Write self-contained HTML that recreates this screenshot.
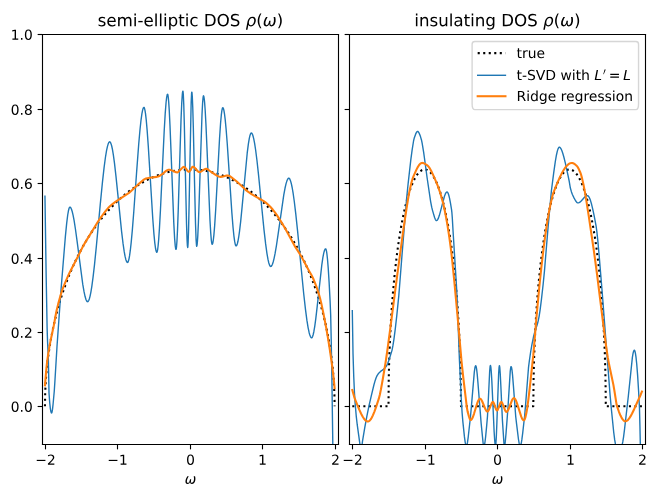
<!DOCTYPE html>
<html><head><meta charset="utf-8"><title>DOS plots</title>
<style>html,body{margin:0;padding:0;background:#fff;width:656px;height:497px;overflow:hidden;font-family:"Liberation Sans",sans-serif;}svg{display:block}</style>
</head><body>
<svg width="656" height="497" viewBox="0 0 656 497" version="1.1">
 
 <defs>
  <style type="text/css">*{stroke-linejoin: round; stroke-linecap: butt}</style>
 </defs>
 <g id="figure_1">
  <g id="patch_1">
   <path d="M 0 497 
L 656 497 
L 656 0 
L 0 0 
z
" style="fill: #ffffff"/>
  </g>
  <g id="axes_1">
   <g id="patch_2">
    <path d="M 42.5 444.5 
L 338.5 444.5 
L 338.5 34.5 
L 42.5 34.5 
z
" style="fill: #ffffff"/>
   </g>
   <g id="matplotlib.axis_1">
    <g id="xtick_1">
     <g id="line2d_1">
      <defs>
       <path id="mf3acd94721" d="M 0 0 
L 0 4.861111 
" style="stroke: #000000; stroke-width: 1.111111"/>
      </defs>
      <g>
       <use href="#mf3acd94721" x="45.5" y="444.5" style="stroke: #000000; stroke-width: 1.111111"/>
      </g>
     </g>
     <g id="text_1">
      <!-- −2 -->
      <g transform="translate(35.26237 464.775608) scale(0.138889 -0.138889)">
       <defs>
        <path id="DejaVuSans-2212" d="M 678 2272 
L 4684 2272 
L 4684 1741 
L 678 1741 
L 678 2272 
z
" transform="scale(0.015625)"/>
        <path id="DejaVuSans-32" d="M 1228 531 
L 3431 531 
L 3431 0 
L 469 0 
L 469 531 
Q 828 903 1448 1529 
Q 2069 2156 2228 2338 
Q 2531 2678 2651 2914 
Q 2772 3150 2772 3378 
Q 2772 3750 2511 3984 
Q 2250 4219 1831 4219 
Q 1534 4219 1204 4116 
Q 875 4013 500 3803 
L 500 4441 
Q 881 4594 1212 4672 
Q 1544 4750 1819 4750 
Q 2544 4750 2975 4387 
Q 3406 4025 3406 3419 
Q 3406 3131 3298 2873 
Q 3191 2616 2906 2266 
Q 2828 2175 2409 1742 
Q 1991 1309 1228 531 
z
" transform="scale(0.015625)"/>
       </defs>
       <use href="#DejaVuSans-2212"/>
       <use href="#DejaVuSans-32" transform="translate(83.789062 0)"/>
      </g>
     </g>
    </g>
    <g id="xtick_2">
     <g id="line2d_2">
      <g>
       <use href="#mf3acd94721" x="117.5" y="444.5" style="stroke: #000000; stroke-width: 1.111111"/>
      </g>
     </g>
     <g id="text_2">
      <!-- −1 -->
      <g transform="translate(107.26237 464.775608) scale(0.138889 -0.138889)">
       <defs>
        <path id="DejaVuSans-31" d="M 794 531 
L 1825 531 
L 1825 4091 
L 703 3866 
L 703 4441 
L 1819 4666 
L 2450 4666 
L 2450 531 
L 3481 531 
L 3481 0 
L 794 0 
L 794 531 
z
" transform="scale(0.015625)"/>
       </defs>
       <use href="#DejaVuSans-2212"/>
       <use href="#DejaVuSans-31" transform="translate(83.789062 0)"/>
      </g>
     </g>
    </g>
    <g id="xtick_3">
     <g id="line2d_3">
      <g>
       <use href="#mf3acd94721" x="190.5" y="444.5" style="stroke: #000000; stroke-width: 1.111111"/>
      </g>
     </g>
     <g id="text_3">
      <!-- 0 -->
      <g transform="translate(186.081597 464.775608) scale(0.138889 -0.138889)">
       <defs>
        <path id="DejaVuSans-30" d="M 2034 4250 
Q 1547 4250 1301 3770 
Q 1056 3291 1056 2328 
Q 1056 1369 1301 889 
Q 1547 409 2034 409 
Q 2525 409 2770 889 
Q 3016 1369 3016 2328 
Q 3016 3291 2770 3770 
Q 2525 4250 2034 4250 
z
M 2034 4750 
Q 2819 4750 3233 4129 
Q 3647 3509 3647 2328 
Q 3647 1150 3233 529 
Q 2819 -91 2034 -91 
Q 1250 -91 836 529 
Q 422 1150 422 2328 
Q 422 3509 836 4129 
Q 1250 4750 2034 4750 
z
" transform="scale(0.015625)"/>
       </defs>
       <use href="#DejaVuSans-30"/>
      </g>
     </g>
    </g>
    <g id="xtick_4">
     <g id="line2d_4">
      <g>
       <use href="#mf3acd94721" x="262.5" y="444.5" style="stroke: #000000; stroke-width: 1.111111"/>
      </g>
     </g>
     <g id="text_4">
      <!-- 1 -->
      <g transform="translate(258.081597 464.775608) scale(0.138889 -0.138889)">
       <use href="#DejaVuSans-31"/>
      </g>
     </g>
    </g>
    <g id="xtick_5">
     <g id="line2d_5">
      <g>
       <use href="#mf3acd94721" x="335.5" y="444.5" style="stroke: #000000; stroke-width: 1.111111"/>
      </g>
     </g>
     <g id="text_5">
      <!-- 2 -->
      <g transform="translate(331.081597 464.775608) scale(0.138889 -0.138889)">
       <use href="#DejaVuSans-32"/>
      </g>
     </g>
    </g>
    <g id="text_6">
     <!-- $\omega$ -->
     <g transform="translate(184.666667 483.773003) scale(0.138889 -0.138889)">
      <defs>
       <path id="DejaVuSans-Oblique-3c9" d="M 1369 -91 
Q 72 -91 434 1766 
Q 575 2500 1256 3500 
L 1875 3500 
Q 1231 2500 1088 1750 
Q 819 397 1519 397 
Q 2166 397 2478 2078 
L 3009 2078 
Q 2669 388 3316 397 
Q 4013 403 4275 1750 
Q 4419 2500 4169 3500 
L 4788 3500 
Q 5075 2500 4934 1766 
Q 4578 -94 3278 -91 
Q 2428 -88 2503 844 
Q 2194 -91 1369 -91 
z
" transform="scale(0.015625)"/>
      </defs>
      <use href="#DejaVuSans-Oblique-3c9" transform="translate(0 0.3125)"/>
     </g>
    </g>
   </g>
   <g id="matplotlib.axis_2">
    <g id="ytick_1">
     <g id="line2d_6">
      <defs>
       <path id="mcb02be6ef6" d="M 0 0 
L -4.861111 0 
" style="stroke: #000000; stroke-width: 1.111111"/>
      </defs>
      <g>
       <use href="#mcb02be6ef6" x="42.5" y="406.5" style="stroke: #000000; stroke-width: 1.111111"/>
      </g>
     </g>
     <g id="text_7">
      <!-- 0.0 -->
      <g transform="translate(10.690104 411.776693) scale(0.138889 -0.138889)">
       <defs>
        <path id="DejaVuSans-2e" d="M 684 794 
L 1344 794 
L 1344 0 
L 684 0 
L 684 794 
z
" transform="scale(0.015625)"/>
       </defs>
       <use href="#DejaVuSans-30"/>
       <use href="#DejaVuSans-2e" transform="translate(63.623047 0)"/>
       <use href="#DejaVuSans-30" transform="translate(95.410156 0)"/>
      </g>
     </g>
    </g>
    <g id="ytick_2">
     <g id="line2d_7">
      <g>
       <use href="#mcb02be6ef6" x="42.5" y="332.5" style="stroke: #000000; stroke-width: 1.111111"/>
      </g>
     </g>
     <g id="text_8">
      <!-- 0.2 -->
      <g transform="translate(10.690104 337.776693) scale(0.138889 -0.138889)">
       <use href="#DejaVuSans-30"/>
       <use href="#DejaVuSans-2e" transform="translate(63.623047 0)"/>
       <use href="#DejaVuSans-32" transform="translate(95.410156 0)"/>
      </g>
     </g>
    </g>
    <g id="ytick_3">
     <g id="line2d_8">
      <g>
       <use href="#mcb02be6ef6" x="42.5" y="258.5" style="stroke: #000000; stroke-width: 1.111111"/>
      </g>
     </g>
     <g id="text_9">
      <!-- 0.4 -->
      <g transform="translate(10.690104 263.776693) scale(0.138889 -0.138889)">
       <defs>
        <path id="DejaVuSans-34" d="M 2419 4116 
L 825 1625 
L 2419 1625 
L 2419 4116 
z
M 2253 4666 
L 3047 4666 
L 3047 1625 
L 3713 1625 
L 3713 1100 
L 3047 1100 
L 3047 0 
L 2419 0 
L 2419 1100 
L 313 1100 
L 313 1709 
L 2253 4666 
z
" transform="scale(0.015625)"/>
       </defs>
       <use href="#DejaVuSans-30"/>
       <use href="#DejaVuSans-2e" transform="translate(63.623047 0)"/>
       <use href="#DejaVuSans-34" transform="translate(95.410156 0)"/>
      </g>
     </g>
    </g>
    <g id="ytick_4">
     <g id="line2d_9">
      <g>
       <use href="#mcb02be6ef6" x="42.5" y="183.5" style="stroke: #000000; stroke-width: 1.111111"/>
      </g>
     </g>
     <g id="text_10">
      <!-- 0.6 -->
      <g transform="translate(10.690104 188.776693) scale(0.138889 -0.138889)">
       <defs>
        <path id="DejaVuSans-36" d="M 2113 2584 
Q 1688 2584 1439 2293 
Q 1191 2003 1191 1497 
Q 1191 994 1439 701 
Q 1688 409 2113 409 
Q 2538 409 2786 701 
Q 3034 994 3034 1497 
Q 3034 2003 2786 2293 
Q 2538 2584 2113 2584 
z
M 3366 4563 
L 3366 3988 
Q 3128 4100 2886 4159 
Q 2644 4219 2406 4219 
Q 1781 4219 1451 3797 
Q 1122 3375 1075 2522 
Q 1259 2794 1537 2939 
Q 1816 3084 2150 3084 
Q 2853 3084 3261 2657 
Q 3669 2231 3669 1497 
Q 3669 778 3244 343 
Q 2819 -91 2113 -91 
Q 1303 -91 875 529 
Q 447 1150 447 2328 
Q 447 3434 972 4092 
Q 1497 4750 2381 4750 
Q 2619 4750 2861 4703 
Q 3103 4656 3366 4563 
z
" transform="scale(0.015625)"/>
       </defs>
       <use href="#DejaVuSans-30"/>
       <use href="#DejaVuSans-2e" transform="translate(63.623047 0)"/>
       <use href="#DejaVuSans-36" transform="translate(95.410156 0)"/>
      </g>
     </g>
    </g>
    <g id="ytick_5">
     <g id="line2d_10">
      <g>
       <use href="#mcb02be6ef6" x="42.5" y="109.5" style="stroke: #000000; stroke-width: 1.111111"/>
      </g>
     </g>
     <g id="text_11">
      <!-- 0.8 -->
      <g transform="translate(10.690104 114.776693) scale(0.138889 -0.138889)">
       <defs>
        <path id="DejaVuSans-38" d="M 2034 2216 
Q 1584 2216 1326 1975 
Q 1069 1734 1069 1313 
Q 1069 891 1326 650 
Q 1584 409 2034 409 
Q 2484 409 2743 651 
Q 3003 894 3003 1313 
Q 3003 1734 2745 1975 
Q 2488 2216 2034 2216 
z
M 1403 2484 
Q 997 2584 770 2862 
Q 544 3141 544 3541 
Q 544 4100 942 4425 
Q 1341 4750 2034 4750 
Q 2731 4750 3128 4425 
Q 3525 4100 3525 3541 
Q 3525 3141 3298 2862 
Q 3072 2584 2669 2484 
Q 3125 2378 3379 2068 
Q 3634 1759 3634 1313 
Q 3634 634 3220 271 
Q 2806 -91 2034 -91 
Q 1263 -91 848 271 
Q 434 634 434 1313 
Q 434 1759 690 2068 
Q 947 2378 1403 2484 
z
M 1172 3481 
Q 1172 3119 1398 2916 
Q 1625 2713 2034 2713 
Q 2441 2713 2670 2916 
Q 2900 3119 2900 3481 
Q 2900 3844 2670 4047 
Q 2441 4250 2034 4250 
Q 1625 4250 1398 4047 
Q 1172 3844 1172 3481 
z
" transform="scale(0.015625)"/>
       </defs>
       <use href="#DejaVuSans-30"/>
       <use href="#DejaVuSans-2e" transform="translate(63.623047 0)"/>
       <use href="#DejaVuSans-38" transform="translate(95.410156 0)"/>
      </g>
     </g>
    </g>
    <g id="ytick_6">
     <g id="line2d_11">
      <g>
       <use href="#mcb02be6ef6" x="42.5" y="34.5" style="stroke: #000000; stroke-width: 1.111111"/>
      </g>
     </g>
     <g id="text_12">
      <!-- 1.0 -->
      <g transform="translate(10.690104 39.776693) scale(0.138889 -0.138889)">
       <use href="#DejaVuSans-31"/>
       <use href="#DejaVuSans-2e" transform="translate(63.623047 0)"/>
       <use href="#DejaVuSans-30" transform="translate(95.410156 0)"/>
      </g>
     </g>
    </g>
   </g>
   <g id="line2d_12">
    <path d="M 44.96 406.3 
L 45.17723 393.33356 
L 45.61169 383.858329 
L 46.26338 374.59849 
L 47.1323 365.43524 
L 48.21845 356.345736 
L 49.52183 347.327974 
L 51.04244 338.386822 
L 52.78028 329.530032 
L 54.66294 321.073159 
L 56.76283 312.655394 
L 59.07995 304.302928 
L 61.54189 296.262916 
L 64.14865 288.495655 
L 66.97264 280.784939 
L 69.94145 273.332254 
L 73.05508 266.121051 
L 76.31353 259.14041 
L 79.64439 252.522132 
L 83.12007 246.104332 
L 86.74057 239.888083 
L 90.43348 233.987544 
L 94.1988 228.383361 
L 98.10894 222.963394 
L 102.09149 217.825881 
L 106.14645 212.960272 
L 110.27382 208.358415 
L 114.40119 204.086298 
L 118.60097 200.056547 
L 122.87316 196.26683 
L 127.14535 192.772748 
L 131.48995 189.5079 
L 135.83455 186.521045 
L 140.17915 183.800987 
L 144.59616 181.299129 
L 149.01317 179.054258 
L 153.43018 177.058825 
L 157.84719 175.306364 
L 162.2642 173.791383 
L 166.68121 172.509264 
L 171.09822 171.456193 
L 175.51523 170.629101 
L 179.93224 170.025613 
L 184.34925 169.644019 
L 188.76626 169.483247 
L 193.18327 169.542846 
L 197.60028 169.822984 
L 202.01729 170.324445 
L 206.4343 171.048646 
L 210.85131 171.997651 
L 215.26832 173.174205 
L 219.68533 174.581776 
L 224.10234 176.224602 
L 228.51935 178.107765 
L 232.86395 180.200339 
L 237.20855 182.537929 
L 241.55315 185.128304 
L 245.89775 187.980461 
L 250.16994 191.050443 
L 254.44213 194.395054 
L 258.64191 197.963475 
L 262.84169 201.824637 
L 266.96906 205.920827 
L 271.09643 210.334845 
L 275.15139 215.002229 
L 279.13394 219.929376 
L 283.04408 225.124709 
L 286.88181 230.599089 
L 290.57472 236.25151 
L 294.19522 242.197348 
L 297.74331 248.456434 
L 301.14658 254.911471 
L 304.40503 261.561356 
L 307.59107 268.572311 
L 310.63229 275.808892 
L 313.52869 283.282194 
L 316.28027 291.009062 
L 318.81462 298.781777 
L 321.20415 306.822193 
L 323.44886 315.170693 
L 325.47634 323.570929 
L 327.28659 331.99289 
L 328.95202 340.807109 
L 330.40022 349.680586 
L 331.63119 358.593479 
L 332.64493 367.51764 
L 333.44144 376.404025 
L 334.02072 385.139139 
L 334.38277 393.33356 
L 334.52759 398.811949 
L 334.6 406.3 
L 334.6 406.3 
" clip-path="url(#p5061287ca9)" style="fill: none; stroke-dasharray: 2.083333,3.4375; stroke-dashoffset: 0; stroke: #000000; stroke-width: 2.083333"/>
   </g>
   <g id="line2d_13">
    <path d="M 44.96 196.3 
L 46.11914 273.786904 
L 47.133387 328.850373 
L 47.568064 341.926174 
L 48.292526 356.696814 
L 48.582311 369.633486 
L 49.016988 393.27107 
L 49.741451 403.01912 
L 50.321021 408.361757 
L 50.90059 411.639377 
L 51.335268 412.807904 
L 51.625053 412.996728 
L 51.769945 412.852837 
L 52.05973 411.972892 
L 52.494407 409.395272 
L 53.073977 404.234297 
L 54.233117 391.443225 
L 54.812686 382.730473 
L 56.986073 346.737232 
L 60.898169 291.193522 
L 63.071556 264.501291 
L 65.389835 236.341023 
L 66.693867 223.070144 
L 67.708114 214.998096 
L 68.432576 210.778872 
L 69.012146 208.487433 
L 69.446823 207.469412 
L 69.736608 207.148711 
L 70.026393 207.114403 
L 70.461071 207.379142 
L 70.895748 207.964497 
L 71.475318 209.214646 
L 72.19978 211.476123 
L 73.069135 215.112043 
L 74.083382 220.455392 
L 75.387414 228.739561 
L 76.981231 240.408671 
L 82.776928 284.45564 
L 84.08096 291.968906 
L 85.095208 296.552773 
L 85.964562 299.426355 
L 86.544132 300.730248 
L 87.123702 301.498181 
L 87.558379 301.698433 
L 87.848164 301.639966 
L 88.282841 301.251476 
L 88.717519 300.514772 
L 89.297089 299.016068 
L 90.021551 296.361375 
L 90.890905 292.119039 
L 91.905153 285.860299 
L 93.064292 277.207953 
L 94.513217 264.548825 
L 96.396818 245.864733 
L 100.164022 205.421233 
L 102.482301 181.825817 
L 104.076118 167.594018 
L 105.38015 157.73991 
L 106.53929 150.676407 
L 107.408644 146.600246 
L 108.133107 144.097394 
L 108.712676 142.728908 
L 109.147354 142.09497 
L 109.582031 141.81362 
L 109.871816 141.833521 
L 110.161601 142.039303 
L 110.596278 142.687248 
L 111.175848 144.151674 
L 111.755418 146.256551 
L 112.47988 149.712117 
L 113.349235 154.939117 
L 114.508374 163.464656 
L 115.957299 176.060154 
L 117.985793 195.912604 
L 121.608104 231.581394 
L 123.057029 243.694214 
L 124.216168 251.691761 
L 125.085523 256.440023 
L 125.809985 259.442462 
L 126.389555 261.149377 
L 126.969125 262.184317 
L 127.403802 262.489462 
L 127.693587 262.435677 
L 127.983372 262.103732 
L 128.418049 261.096348 
L 128.997619 258.856074 
L 129.577189 255.665847 
L 130.301651 250.467334 
L 131.171006 242.665161 
L 132.330145 230.063493 
L 133.77907 211.701796 
L 136.532026 173.187405 
L 138.705413 144.224362 
L 140.009445 129.444583 
L 141.023692 120.039058 
L 141.893047 113.799701 
L 142.617509 110.097126 
L 143.197079 108.230364 
L 143.631756 107.523124 
L 143.921541 107.401211 
L 144.211326 107.649113 
L 144.501111 108.314563 
L 144.935788 110.052523 
L 145.515358 113.647253 
L 146.23982 119.971961 
L 147.109175 129.840973 
L 148.268314 145.993811 
L 150.007024 174.076692 
L 152.75998 218.565762 
L 153.91912 233.847717 
L 154.788474 242.829098 
L 155.512936 248.260593 
L 156.092506 251.040266 
L 156.527184 252.108317 
L 156.816968 252.298822 
L 156.961861 252.193748 
L 157.251646 251.487734 
L 157.686323 249.258528 
L 158.121001 245.736282 
L 158.70057 239.24474 
L 159.425033 228.662071 
L 160.43928 210.276623 
L 162.033097 176.486942 
L 164.206483 130.698677 
L 165.22073 113.368481 
L 166.090085 102.245297 
L 166.669655 97.268329 
L 167.104332 95.026586 
L 167.394117 94.311569 
L 167.53901 94.201803 
L 167.683902 94.29936 
L 167.973687 95.28204 
L 168.263472 97.25487 
L 168.698149 101.90575 
L 169.277719 110.86888 
L 170.002181 125.663592 
L 171.161321 154.857268 
L 173.769385 222.608168 
L 174.638739 238.590467 
L 175.218309 245.652695 
L 175.652986 248.634491 
L 175.942771 249.37869 
L 176.087664 249.323993 
L 176.232556 248.87266 
L 176.522341 246.815823 
L 176.957019 241.108983 
L 177.536588 229.344997 
L 178.261051 209.545598 
L 179.565083 166.291128 
L 181.014007 120.114815 
L 181.738469 103.047258 
L 182.318039 94.288297 
L 182.607824 91.927479 
L 182.897609 91.100057 
L 183.042501 91.505351 
L 183.332286 94.677072 
L 183.766963 104.563458 
L 184.346533 125.15097 
L 185.36078 172.270006 
L 186.51992 223.788628 
L 187.09949 240.768773 
L 187.389275 245.618649 
L 187.67906 247.491096 
L 187.823952 247.082488 
L 188.113737 243.072007 
L 188.548414 230.29118 
L 189.127984 204.078625 
L 191.156478 102.383237 
L 191.591156 93.268547 
L 191.736048 92.212246 
L 191.88094 92.224835 
L 192.025833 93.052434 
L 192.315618 96.863007 
L 192.750295 107.249667 
L 193.329865 127.807987 
L 194.489005 180.446199 
L 195.503252 223.198696 
L 196.082821 239.577281 
L 196.517499 245.674215 
L 196.662391 246.272888 
L 196.807284 246.188797 
L 197.097069 244.82046 
L 197.386853 242.003725 
L 197.821531 235.368626 
L 198.401101 222.756967 
L 199.270455 198.043205 
L 202.023412 114.007276 
L 202.602981 102.965801 
L 203.037659 97.792597 
L 203.327444 96.085819 
L 203.472336 95.807452 
L 203.617229 95.88016 
L 203.907014 96.744639 
L 204.196798 98.505157 
L 204.631476 102.681952 
L 205.211046 110.772518 
L 205.935508 124.197293 
L 206.949755 147.329685 
L 209.992496 220.469625 
L 210.716958 232.825745 
L 211.296528 239.828224 
L 211.731206 243.052945 
L 212.02099 244.113979 
L 212.165883 244.293167 
L 212.310775 244.255556 
L 212.60056 243.729554 
L 212.890345 242.637296 
L 213.325023 240.010444 
L 213.904592 234.838674 
L 214.629055 226.067942 
L 215.643302 210.422123 
L 217.092226 183.866793 
L 219.555398 138.260597 
L 220.569645 123.297981 
L 221.294107 115.187486 
L 221.873677 110.647247 
L 222.308354 108.554327 
L 222.598139 107.846729 
L 222.887924 107.718039 
L 223.177709 108.028049 
L 223.467494 108.709348 
L 223.902171 110.389939 
L 224.481741 113.770136 
L 225.206203 119.633594 
L 226.075558 128.718657 
L 227.234697 143.548529 
L 228.973407 169.384313 
L 231.871256 212.871168 
L 233.030395 227.213384 
L 233.89975 235.804695 
L 234.624212 241.172877 
L 235.203782 244.101992 
L 235.638459 245.412269 
L 235.928244 245.831452 
L 236.218029 245.879683 
L 236.507814 245.660551 
L 236.942491 244.897909 
L 237.377169 243.642701 
L 237.956738 241.257639 
L 238.681201 237.238521 
L 239.550555 231.087115 
L 240.709695 221.047075 
L 242.158619 206.387749 
L 247.229855 152.950205 
L 248.388994 143.836575 
L 249.258349 138.563511 
L 249.982811 135.396515 
L 250.562381 133.771808 
L 250.997059 133.132751 
L 251.286843 133.000254 
L 251.576628 133.080657 
L 252.011306 133.525248 
L 252.445983 134.342476 
L 253.025553 135.980629 
L 253.750015 138.849793 
L 254.61937 143.387496 
L 255.633617 150.008643 
L 256.937649 160.269278 
L 258.531466 174.819459 
L 260.994637 199.694646 
L 264.037379 230.077609 
L 265.631196 243.921634 
L 266.935228 253.368682 
L 267.949475 259.210306 
L 268.818829 262.977655 
L 269.543292 265.132802 
L 270.122861 266.152576 
L 270.557539 266.478509 
L 270.992216 266.431698 
L 271.426893 266.084204 
L 271.861571 265.455697 
L 272.441141 264.205924 
L 273.165603 262.030862 
L 274.034957 258.611636 
L 275.049205 253.65528 
L 276.353237 246.039211 
L 278.091946 234.347355 
L 283.742751 195.028034 
L 285.046783 188.015635 
L 286.061031 183.654004 
L 286.930385 180.83174 
L 287.654847 179.215631 
L 288.234417 178.453265 
L 288.669095 178.213789 
L 289.103772 178.284237 
L 289.538449 178.691412 
L 289.973127 179.424096 
L 290.552696 180.884419 
L 291.277159 183.442495 
L 292.146513 187.505671 
L 293.16076 193.48166 
L 294.3199 201.734307 
L 295.768824 213.815888 
L 297.652426 231.695761 
L 300.695168 263.19599 
L 303.737909 293.955434 
L 305.476618 309.447863 
L 306.925543 320.425248 
L 308.084682 327.58804 
L 309.098929 332.459833 
L 309.823392 335.043867 
L 310.547854 336.811752 
L 311.127424 337.597145 
L 311.562101 337.798679 
L 311.851886 337.714607 
L 312.141671 337.410617 
L 312.576348 336.561806 
L 313.155918 334.746508 
L 313.88038 331.485377 
L 314.749735 326.31242 
L 315.763982 318.863794 
L 317.212906 306.353805 
L 321.849465 264.539757 
L 322.863712 257.67051 
L 323.733067 253.125917 
L 324.457529 250.481325 
L 325.037099 249.220068 
L 325.471776 248.82226 
L 325.761561 248.880789 
L 326.051346 249.423714 
L 326.486023 251.164237 
L 326.9207 253.96563 
L 327.50027 259.252889 
L 328.224732 268.167016 
L 329.094087 281.897588 
L 330.108334 301.524975 
L 330.687904 315.443953 
L 331.267474 342.24134 
L 331.847044 375.589154 
L 333.575287 498 
L 333.575287 498 
" clip-path="url(#p5061287ca9)" style="fill: none; stroke: #1f77b4; stroke-width: 1.388889; stroke-linecap: square"/>
   </g>
   <g id="line2d_14">
    <path d="M 44.96 385.3 
L 46.264032 369.876263 
L 47.133387 361.72795 
L 48.292526 353.346983 
L 49.596558 345.651833 
L 50.90059 339.111157 
L 53.798439 325.50192 
L 55.392256 316.700015 
L 56.551396 310.766863 
L 58.145213 304.125474 
L 60.318599 296.168513 
L 61.912416 290.972031 
L 63.506233 286.694069 
L 66.548974 279.375703 
L 69.301931 273.230487 
L 71.475318 268.920584 
L 77.271016 257.844448 
L 83.066713 246.14901 
L 85.095208 242.622826 
L 99.149775 219.801127 
L 102.192516 215.543602 
L 105.669935 210.975428 
L 108.133107 208.095 
L 110.161601 206.049458 
L 112.47988 204.054275 
L 115.377729 201.879546 
L 120.593857 198.308473 
L 128.997619 192.85342 
L 131.171006 190.935808 
L 139.14009 183.590809 
L 143.052186 180.183283 
L 144.646003 179.108996 
L 145.950035 178.494631 
L 147.254067 178.156997 
L 149.717239 177.77911 
L 156.816968 176.872818 
L 158.121001 176.446128 
L 160.294387 175.451734 
L 161.453527 174.711973 
L 163.192236 173.296056 
L 166.090085 170.894861 
L 167.394117 170.121588 
L 168.408364 169.774133 
L 169.277719 169.704141 
L 170.291966 169.869887 
L 171.595998 170.352492 
L 176.087664 172.318245 
L 177.101911 172.386909 
L 177.681481 172.214772 
L 178.405943 171.762656 
L 179.42019 170.813045 
L 182.752716 167.349574 
L 183.477179 166.985077 
L 184.056748 166.902038 
L 184.491426 167.043565 
L 185.070995 167.522971 
L 185.94035 168.654767 
L 187.823952 171.274575 
L 188.403522 171.705229 
L 188.838199 171.79868 
L 189.272876 171.612124 
L 189.707554 171.160961 
L 190.432016 170.019089 
L 192.025833 167.296662 
L 192.605403 166.775208 
L 193.04008 166.707648 
L 193.61965 166.889477 
L 194.344112 167.40074 
L 195.358359 168.478167 
L 197.966423 171.494328 
L 198.690885 171.962569 
L 199.270455 172.099656 
L 199.994917 172.006326 
L 200.864272 171.668084 
L 202.023412 170.963542 
L 204.776368 169.163469 
L 205.645723 168.860463 
L 206.370185 168.807616 
L 207.094647 168.994181 
L 207.964002 169.479 
L 209.268034 170.509465 
L 211.151636 171.967933 
L 215.643302 174.912414 
L 218.541151 176.460979 
L 219.70029 176.819115 
L 220.714537 176.896444 
L 222.018569 176.743456 
L 223.902171 176.271184 
L 226.655128 175.592503 
L 227.95916 175.504815 
L 228.828514 175.686552 
L 229.842761 176.169101 
L 231.146793 177.065521 
L 236.797599 181.516345 
L 240.854587 185.240769 
L 245.636038 189.821197 
L 247.954317 191.60783 
L 251.141951 193.782484 
L 254.909155 196.079693 
L 263.312916 200.852027 
L 265.776088 202.656693 
L 267.949475 204.52372 
L 270.267754 206.803177 
L 272.730925 209.555123 
L 274.904312 212.324469 
L 277.367484 215.842502 
L 280.410225 220.594711 
L 285.336568 228.769243 
L 287.654847 232.954616 
L 294.609685 245.849002 
L 297.217749 249.903607 
L 300.26049 254.691236 
L 302.288984 258.35078 
L 309.098929 271.072407 
L 311.706993 275.540701 
L 313.155918 278.503843 
L 314.749735 282.292541 
L 316.778229 287.718996 
L 318.516938 292.895901 
L 319.965863 297.919671 
L 321.269895 303.256517 
L 323.008604 311.35598 
L 325.616668 324.638017 
L 327.790055 336.824308 
L 329.818549 349.463026 
L 331.847044 363.521722 
L 333.295968 375.097039 
L 334.310215 384.748196 
L 334.6 388 
L 334.6 388 
" clip-path="url(#p5061287ca9)" style="fill: none; stroke: #ff7f0e; stroke-width: 2.083333; stroke-linecap: square"/>
   </g>
   <g id="patch_3">
    <path d="M 42.5 444.5 
L 42.5 34.5 
" style="fill: none; stroke: #000000; stroke-width: 1.111111; stroke-linejoin: miter; stroke-linecap: square"/>
   </g>
   <g id="patch_4">
    <path d="M 338.5 444.5 
L 338.5 34.5 
" style="fill: none; stroke: #000000; stroke-width: 1.111111; stroke-linejoin: miter; stroke-linecap: square"/>
   </g>
   <g id="patch_5">
    <path d="M 42.5 444.5 
L 338.5 444.5 
" style="fill: none; stroke: #000000; stroke-width: 1.111111; stroke-linejoin: miter; stroke-linecap: square"/>
   </g>
   <g id="patch_6">
    <path d="M 42.5 34.5 
L 338.5 34.5 
" style="fill: none; stroke: #000000; stroke-width: 1.111111; stroke-linejoin: miter; stroke-linecap: square"/>
   </g>
   <g id="text_13">
    <!-- semi-elliptic DOS $\rho(\omega)$ -->
    <g transform="translate(97.666667 26.166667) scale(0.166667 -0.166667)">
     <defs>
      <path id="DejaVuSans-73" d="M 2834 3397 
L 2834 2853 
Q 2591 2978 2328 3040 
Q 2066 3103 1784 3103 
Q 1356 3103 1142 2972 
Q 928 2841 928 2578 
Q 928 2378 1081 2264 
Q 1234 2150 1697 2047 
L 1894 2003 
Q 2506 1872 2764 1633 
Q 3022 1394 3022 966 
Q 3022 478 2636 193 
Q 2250 -91 1575 -91 
Q 1294 -91 989 -36 
Q 684 19 347 128 
L 347 722 
Q 666 556 975 473 
Q 1284 391 1588 391 
Q 1994 391 2212 530 
Q 2431 669 2431 922 
Q 2431 1156 2273 1281 
Q 2116 1406 1581 1522 
L 1381 1569 
Q 847 1681 609 1914 
Q 372 2147 372 2553 
Q 372 3047 722 3315 
Q 1072 3584 1716 3584 
Q 2034 3584 2315 3537 
Q 2597 3491 2834 3397 
z
" transform="scale(0.015625)"/>
      <path id="DejaVuSans-65" d="M 3597 1894 
L 3597 1613 
L 953 1613 
Q 991 1019 1311 708 
Q 1631 397 2203 397 
Q 2534 397 2845 478 
Q 3156 559 3463 722 
L 3463 178 
Q 3153 47 2828 -22 
Q 2503 -91 2169 -91 
Q 1331 -91 842 396 
Q 353 884 353 1716 
Q 353 2575 817 3079 
Q 1281 3584 2069 3584 
Q 2775 3584 3186 3129 
Q 3597 2675 3597 1894 
z
M 3022 2063 
Q 3016 2534 2758 2815 
Q 2500 3097 2075 3097 
Q 1594 3097 1305 2825 
Q 1016 2553 972 2059 
L 3022 2063 
z
" transform="scale(0.015625)"/>
      <path id="DejaVuSans-6d" d="M 3328 2828 
Q 3544 3216 3844 3400 
Q 4144 3584 4550 3584 
Q 5097 3584 5394 3201 
Q 5691 2819 5691 2113 
L 5691 0 
L 5113 0 
L 5113 2094 
Q 5113 2597 4934 2840 
Q 4756 3084 4391 3084 
Q 3944 3084 3684 2787 
Q 3425 2491 3425 1978 
L 3425 0 
L 2847 0 
L 2847 2094 
Q 2847 2600 2669 2842 
Q 2491 3084 2119 3084 
Q 1678 3084 1418 2786 
Q 1159 2488 1159 1978 
L 1159 0 
L 581 0 
L 581 3500 
L 1159 3500 
L 1159 2956 
Q 1356 3278 1631 3431 
Q 1906 3584 2284 3584 
Q 2666 3584 2933 3390 
Q 3200 3197 3328 2828 
z
" transform="scale(0.015625)"/>
      <path id="DejaVuSans-69" d="M 603 3500 
L 1178 3500 
L 1178 0 
L 603 0 
L 603 3500 
z
M 603 4863 
L 1178 4863 
L 1178 4134 
L 603 4134 
L 603 4863 
z
" transform="scale(0.015625)"/>
      <path id="DejaVuSans-2d" d="M 313 2009 
L 1997 2009 
L 1997 1497 
L 313 1497 
L 313 2009 
z
" transform="scale(0.015625)"/>
      <path id="DejaVuSans-6c" d="M 603 4863 
L 1178 4863 
L 1178 0 
L 603 0 
L 603 4863 
z
" transform="scale(0.015625)"/>
      <path id="DejaVuSans-70" d="M 1159 525 
L 1159 -1331 
L 581 -1331 
L 581 3500 
L 1159 3500 
L 1159 2969 
Q 1341 3281 1617 3432 
Q 1894 3584 2278 3584 
Q 2916 3584 3314 3078 
Q 3713 2572 3713 1747 
Q 3713 922 3314 415 
Q 2916 -91 2278 -91 
Q 1894 -91 1617 61 
Q 1341 213 1159 525 
z
M 3116 1747 
Q 3116 2381 2855 2742 
Q 2594 3103 2138 3103 
Q 1681 3103 1420 2742 
Q 1159 2381 1159 1747 
Q 1159 1113 1420 752 
Q 1681 391 2138 391 
Q 2594 391 2855 752 
Q 3116 1113 3116 1747 
z
" transform="scale(0.015625)"/>
      <path id="DejaVuSans-74" d="M 1172 4494 
L 1172 3500 
L 2356 3500 
L 2356 3053 
L 1172 3053 
L 1172 1153 
Q 1172 725 1289 603 
Q 1406 481 1766 481 
L 2356 481 
L 2356 0 
L 1766 0 
Q 1100 0 847 248 
Q 594 497 594 1153 
L 594 3053 
L 172 3053 
L 172 3500 
L 594 3500 
L 594 4494 
L 1172 4494 
z
" transform="scale(0.015625)"/>
      <path id="DejaVuSans-63" d="M 3122 3366 
L 3122 2828 
Q 2878 2963 2633 3030 
Q 2388 3097 2138 3097 
Q 1578 3097 1268 2742 
Q 959 2388 959 1747 
Q 959 1106 1268 751 
Q 1578 397 2138 397 
Q 2388 397 2633 464 
Q 2878 531 3122 666 
L 3122 134 
Q 2881 22 2623 -34 
Q 2366 -91 2075 -91 
Q 1284 -91 818 406 
Q 353 903 353 1747 
Q 353 2603 823 3093 
Q 1294 3584 2113 3584 
Q 2378 3584 2631 3529 
Q 2884 3475 3122 3366 
z
" transform="scale(0.015625)"/>
      <path id="DejaVuSans-20" transform="scale(0.015625)"/>
      <path id="DejaVuSans-44" d="M 1259 4147 
L 1259 519 
L 2022 519 
Q 2988 519 3436 956 
Q 3884 1394 3884 2338 
Q 3884 3275 3436 3711 
Q 2988 4147 2022 4147 
L 1259 4147 
z
M 628 4666 
L 1925 4666 
Q 3281 4666 3915 4102 
Q 4550 3538 4550 2338 
Q 4550 1131 3912 565 
Q 3275 0 1925 0 
L 628 0 
L 628 4666 
z
" transform="scale(0.015625)"/>
      <path id="DejaVuSans-4f" d="M 2522 4238 
Q 1834 4238 1429 3725 
Q 1025 3213 1025 2328 
Q 1025 1447 1429 934 
Q 1834 422 2522 422 
Q 3209 422 3611 934 
Q 4013 1447 4013 2328 
Q 4013 3213 3611 3725 
Q 3209 4238 2522 4238 
z
M 2522 4750 
Q 3503 4750 4090 4092 
Q 4678 3434 4678 2328 
Q 4678 1225 4090 567 
Q 3503 -91 2522 -91 
Q 1538 -91 948 565 
Q 359 1222 359 2328 
Q 359 3434 948 4092 
Q 1538 4750 2522 4750 
z
" transform="scale(0.015625)"/>
      <path id="DejaVuSans-53" d="M 3425 4513 
L 3425 3897 
Q 3066 4069 2747 4153 
Q 2428 4238 2131 4238 
Q 1616 4238 1336 4038 
Q 1056 3838 1056 3469 
Q 1056 3159 1242 3001 
Q 1428 2844 1947 2747 
L 2328 2669 
Q 3034 2534 3370 2195 
Q 3706 1856 3706 1288 
Q 3706 609 3251 259 
Q 2797 -91 1919 -91 
Q 1588 -91 1214 -16 
Q 841 59 441 206 
L 441 856 
Q 825 641 1194 531 
Q 1563 422 1919 422 
Q 2459 422 2753 634 
Q 3047 847 3047 1241 
Q 3047 1584 2836 1778 
Q 2625 1972 2144 2069 
L 1759 2144 
Q 1053 2284 737 2584 
Q 422 2884 422 3419 
Q 422 4038 858 4394 
Q 1294 4750 2059 4750 
Q 2388 4750 2728 4690 
Q 3069 4631 3425 4513 
z
" transform="scale(0.015625)"/>
      <path id="DejaVuSans-Oblique-3c1" d="M 1203 2875 
Q 1453 3194 1981 3475 
Q 2188 3584 2756 3584 
Q 3394 3584 3694 3078 
Q 3994 2572 3834 1747 
Q 3672 922 3175 415 
Q 2678 -91 2041 -91 
Q 1656 -91 1409 63 
Q 1163 213 1044 525 
L 681 -1331 
L 103 -1331 
L 697 1716 
Q 838 2438 1203 2875 
z
M 3238 1747 
Q 3359 2381 3169 2744 
Q 2978 3103 2522 3103 
Q 2066 3103 1734 2744 
Q 1403 2381 1281 1747 
Q 1156 1113 1347 750 
Q 1538 391 1994 391 
Q 2450 391 2781 750 
Q 3113 1113 3238 1747 
z
" transform="scale(0.015625)"/>
      <path id="DejaVuSans-28" d="M 1984 4856 
Q 1566 4138 1362 3434 
Q 1159 2731 1159 2009 
Q 1159 1288 1364 580 
Q 1569 -128 1984 -844 
L 1484 -844 
Q 1016 -109 783 600 
Q 550 1309 550 2009 
Q 550 2706 781 3412 
Q 1013 4119 1484 4856 
L 1984 4856 
z
" transform="scale(0.015625)"/>
      <path id="DejaVuSans-29" d="M 513 4856 
L 1013 4856 
Q 1481 4119 1714 3412 
Q 1947 2706 1947 2009 
Q 1947 1309 1714 600 
Q 1481 -109 1013 -844 
L 513 -844 
Q 928 -128 1133 580 
Q 1338 1288 1338 2009 
Q 1338 2731 1133 3434 
Q 928 4138 513 4856 
z
" transform="scale(0.015625)"/>
     </defs>
     <use href="#DejaVuSans-73" transform="translate(0 0.015625)"/>
     <use href="#DejaVuSans-65" transform="translate(52.099609 0.015625)"/>
     <use href="#DejaVuSans-6d" transform="translate(113.623047 0.015625)"/>
     <use href="#DejaVuSans-69" transform="translate(211.035156 0.015625)"/>
     <use href="#DejaVuSans-2d" transform="translate(238.818359 0.015625)"/>
     <use href="#DejaVuSans-65" transform="translate(274.902344 0.015625)"/>
     <use href="#DejaVuSans-6c" transform="translate(336.425781 0.015625)"/>
     <use href="#DejaVuSans-6c" transform="translate(364.208984 0.015625)"/>
     <use href="#DejaVuSans-69" transform="translate(391.992188 0.015625)"/>
     <use href="#DejaVuSans-70" transform="translate(419.775391 0.015625)"/>
     <use href="#DejaVuSans-74" transform="translate(483.251953 0.015625)"/>
     <use href="#DejaVuSans-69" transform="translate(522.460938 0.015625)"/>
     <use href="#DejaVuSans-63" transform="translate(550.244141 0.015625)"/>
     <use href="#DejaVuSans-20" transform="translate(605.224609 0.015625)"/>
     <use href="#DejaVuSans-44" transform="translate(637.011719 0.015625)"/>
     <use href="#DejaVuSans-4f" transform="translate(714.013672 0.015625)"/>
     <use href="#DejaVuSans-53" transform="translate(792.724609 0.015625)"/>
     <use href="#DejaVuSans-20" transform="translate(856.201172 0.015625)"/>
     <use href="#DejaVuSans-Oblique-3c1" transform="translate(887.988281 0.015625)"/>
     <use href="#DejaVuSans-28" transform="translate(951.464844 0.015625)"/>
     <use href="#DejaVuSans-Oblique-3c9" transform="translate(990.478516 0.015625)"/>
     <use href="#DejaVuSans-29" transform="translate(1074.21875 0.015625)"/>
    </g>
   </g>
  </g>
  <g id="axes_2">
   <g id="patch_7">
    <path d="M 349.5 444.5 
L 645.5 444.5 
L 645.5 34.5 
L 349.5 34.5 
z
" style="fill: #ffffff"/>
   </g>
   <g id="matplotlib.axis_3">
    <g id="xtick_6">
     <g id="line2d_15">
      <g>
       <use href="#mf3acd94721" x="352.5" y="444.5" style="stroke: #000000; stroke-width: 1.111111"/>
      </g>
     </g>
     <g id="text_14">
      <!-- −2 -->
      <g transform="translate(342.26237 464.775608) scale(0.138889 -0.138889)">
       <use href="#DejaVuSans-2212"/>
       <use href="#DejaVuSans-32" transform="translate(83.789062 0)"/>
      </g>
     </g>
    </g>
    <g id="xtick_7">
     <g id="line2d_16">
      <g>
       <use href="#mf3acd94721" x="425.5" y="444.5" style="stroke: #000000; stroke-width: 1.111111"/>
      </g>
     </g>
     <g id="text_15">
      <!-- −1 -->
      <g transform="translate(415.26237 464.775608) scale(0.138889 -0.138889)">
       <use href="#DejaVuSans-2212"/>
       <use href="#DejaVuSans-31" transform="translate(83.789062 0)"/>
      </g>
     </g>
    </g>
    <g id="xtick_8">
     <g id="line2d_17">
      <g>
       <use href="#mf3acd94721" x="497.5" y="444.5" style="stroke: #000000; stroke-width: 1.111111"/>
      </g>
     </g>
     <g id="text_16">
      <!-- 0 -->
      <g transform="translate(493.081597 464.775608) scale(0.138889 -0.138889)">
       <use href="#DejaVuSans-30"/>
      </g>
     </g>
    </g>
    <g id="xtick_9">
     <g id="line2d_18">
      <g>
       <use href="#mf3acd94721" x="570.5" y="444.5" style="stroke: #000000; stroke-width: 1.111111"/>
      </g>
     </g>
     <g id="text_17">
      <!-- 1 -->
      <g transform="translate(566.081597 464.775608) scale(0.138889 -0.138889)">
       <use href="#DejaVuSans-31"/>
      </g>
     </g>
    </g>
    <g id="xtick_10">
     <g id="line2d_19">
      <g>
       <use href="#mf3acd94721" x="642.5" y="444.5" style="stroke: #000000; stroke-width: 1.111111"/>
      </g>
     </g>
     <g id="text_18">
      <!-- 2 -->
      <g transform="translate(638.081597 464.775608) scale(0.138889 -0.138889)">
       <use href="#DejaVuSans-32"/>
      </g>
     </g>
    </g>
    <g id="text_19">
     <!-- $\omega$ -->
     <g transform="translate(491.666667 483.773003) scale(0.138889 -0.138889)">
      <use href="#DejaVuSans-Oblique-3c9" transform="translate(0 0.3125)"/>
     </g>
    </g>
   </g>
   <g id="matplotlib.axis_4">
    <g id="ytick_7">
     <g id="line2d_20">
      <g>
       <use href="#mcb02be6ef6" x="349.5" y="406.5" style="stroke: #000000; stroke-width: 1.111111"/>
      </g>
     </g>
    </g>
    <g id="ytick_8">
     <g id="line2d_21">
      <g>
       <use href="#mcb02be6ef6" x="349.5" y="332.5" style="stroke: #000000; stroke-width: 1.111111"/>
      </g>
     </g>
    </g>
    <g id="ytick_9">
     <g id="line2d_22">
      <g>
       <use href="#mcb02be6ef6" x="349.5" y="258.5" style="stroke: #000000; stroke-width: 1.111111"/>
      </g>
     </g>
    </g>
    <g id="ytick_10">
     <g id="line2d_23">
      <g>
       <use href="#mcb02be6ef6" x="349.5" y="183.5" style="stroke: #000000; stroke-width: 1.111111"/>
      </g>
     </g>
    </g>
    <g id="ytick_11">
     <g id="line2d_24">
      <g>
       <use href="#mcb02be6ef6" x="349.5" y="109.5" style="stroke: #000000; stroke-width: 1.111111"/>
      </g>
     </g>
    </g>
    <g id="ytick_12">
     <g id="line2d_25">
      <g>
       <use href="#mcb02be6ef6" x="349.5" y="34.5" style="stroke: #000000; stroke-width: 1.111111"/>
      </g>
     </g>
    </g>
   </g>
   <g id="line2d_26">
    <path d="M 352.3 406.3 
L 388.505 406.3 
L 388.72223 380.396332 
L 389.15669 361.568739 
L 389.80838 343.328353 
L 390.6773 325.502197 
L 391.69104 309.157709 
L 392.92201 292.942366 
L 394.2978 277.803303 
L 395.81841 263.577123 
L 397.41143 250.737322 
L 399.07686 239.052967 
L 400.8147 228.383361 
L 402.62495 218.641472 
L 404.4352 210.094264 
L 406.24545 202.5913 
L 408.0557 196.020774 
L 409.79354 190.511113 
L 411.53138 185.723721 
L 413.19681 181.770735 
L 414.78983 178.540717 
L 416.31044 175.938962 
L 417.75864 173.883546 
L 419.13443 172.302537 
L 420.43781 171.131983 
L 421.66878 170.314434 
L 422.82734 169.797846 
L 423.9859 169.524814 
L 425.07205 169.489286 
L 426.1582 169.666979 
L 427.31676 170.092086 
L 428.47532 170.761663 
L 429.70629 171.743309 
L 431.00967 173.090018 
L 432.31305 174.758259 
L 433.68884 176.875774 
L 435.13704 179.51152 
L 436.65765 182.744024 
L 438.25067 186.663965 
L 439.9161 191.377823 
L 441.58153 196.763022 
L 443.31937 203.155937 
L 445.05721 210.415247 
L 446.79505 218.641472 
L 448.53289 227.96837 
L 450.19832 238.108628 
L 451.86375 249.656603 
L 453.45677 262.331363 
L 454.90497 275.629735 
L 456.28076 290.373968 
L 457.51173 306.058297 
L 458.52547 321.689694 
L 459.39439 338.386822 
L 460.04608 354.727029 
L 460.55295 372.892067 
L 460.84259 391.329517 
L 460.98741 406.3 
L 533.325 406.3 
L 533.54223 380.396332 
L 533.97669 361.568739 
L 534.62838 343.328353 
L 535.4973 325.502197 
L 536.51104 309.157709 
L 537.74201 292.942366 
L 539.1178 277.803303 
L 540.63841 263.577123 
L 542.23143 250.737322 
L 543.89686 239.052967 
L 545.6347 228.383361 
L 547.44495 218.641472 
L 549.2552 210.094264 
L 551.06545 202.5913 
L 552.8757 196.020774 
L 554.61354 190.511113 
L 556.35138 185.723721 
L 558.01681 181.770735 
L 559.60983 178.540717 
L 561.13044 175.938962 
L 562.57864 173.883546 
L 563.95443 172.302537 
L 565.25781 171.131983 
L 566.48878 170.314434 
L 567.64734 169.797846 
L 568.8059 169.524814 
L 569.89205 169.489286 
L 570.9782 169.666979 
L 572.13676 170.092086 
L 573.29532 170.761663 
L 574.52629 171.743309 
L 575.82967 173.090018 
L 577.13305 174.758259 
L 578.50884 176.875774 
L 579.95704 179.51152 
L 581.47765 182.744024 
L 583.07067 186.663965 
L 584.7361 191.377823 
L 586.40153 196.763022 
L 588.13937 203.155937 
L 589.87721 210.415247 
L 591.61505 218.641472 
L 593.35289 227.96837 
L 595.01832 238.108628 
L 596.68375 249.656603 
L 598.27677 262.331363 
L 599.72497 275.629735 
L 601.10076 290.373968 
L 602.33173 306.058297 
L 603.34547 321.689694 
L 604.21439 338.386822 
L 604.86608 354.727029 
L 605.37295 372.892067 
L 605.66259 391.329517 
L 605.80741 406.3 
L 641.94 406.3 
L 641.94 406.3 
" clip-path="url(#p74f81f4b41)" style="fill: none; stroke-dasharray: 2.083333,3.4375; stroke-dashoffset: 0; stroke: #000000; stroke-width: 2.083333"/>
   </g>
   <g id="line2d_27">
    <path d="M 352.3 310.8 
L 353.024462 353.895716 
L 353.748924 376.650614 
L 354.473387 393.002892 
L 355.197849 404.29103 
L 356.212096 415.809138 
L 357.226343 424.708657 
L 358.675268 435.096481 
L 359.9793 444.551532 
L 360.848654 451.721933 
L 360.993547 451.99946 
L 361.138439 451.745783 
L 361.428224 449.93073 
L 362.442471 441.703694 
L 364.76075 427.672044 
L 366.934137 415.834439 
L 368.962631 405.929403 
L 371.28091 395.784682 
L 373.888974 384.988099 
L 375.193007 380.415229 
L 376.207254 377.518034 
L 377.076608 375.619747 
L 378.090855 374.027015 
L 379.249995 372.637174 
L 380.554027 371.407821 
L 382.002951 370.400239 
L 383.451876 369.34236 
L 385.190585 367.664713 
L 386.204832 366.386829 
L 386.929295 365.173137 
L 387.798649 363.209181 
L 389.247574 359.290086 
L 392.00053 350.356364 
L 392.869885 345.956359 
L 393.884132 339.540521 
L 395.188164 329.611287 
L 396.781981 315.563093 
L 398.810475 295.648265 
L 399.969615 281.01658 
L 401.998109 255.100663 
L 405.04085 217.846492 
L 406.634667 198.424951 
L 408.083592 184.020742 
L 410.836548 159.607843 
L 412.14058 149.792999 
L 413.589505 140.748959 
L 414.169075 138.296982 
L 415.617999 134.157388 
L 416.342461 132.60188 
L 416.922031 131.77069 
L 417.356708 131.449799 
L 417.791386 131.432078 
L 418.226063 131.727993 
L 418.805633 132.540859 
L 419.530095 134.082031 
L 420.544342 136.853484 
L 421.413697 139.673488 
L 422.138159 143.193978 
L 423.587084 151.827641 
L 424.746223 160.264517 
L 427.064502 177.480515 
L 430.686813 201.853078 
L 431.701061 207.140531 
L 432.570415 210.610671 
L 434.598909 217.559389 
L 435.323372 219.339127 
L 435.902941 220.255542 
L 436.337619 220.573423 
L 436.772296 220.543295 
L 437.206973 220.228491 
L 437.786543 219.417097 
L 438.511006 217.854575 
L 439.38036 215.324202 
L 440.5395 211.158114 
L 444.451596 196.236344 
L 445.32095 193.960102 
L 446.045413 192.666172 
L 446.624982 192.106843 
L 447.05966 192.003871 
L 447.349445 192.130973 
L 447.784122 192.645514 
L 448.218799 193.525851 
L 448.798369 195.224188 
L 449.522831 198.104387 
L 450.392186 202.514081 
L 451.551326 209.673724 
L 451.841111 212.050768 
L 452.275788 217.564432 
L 453.145143 232.451087 
L 454.304282 251.321195 
L 456.332776 283.333472 
L 457.347024 303.255622 
L 458.071486 322.835891 
L 459.375518 358.689159 
L 461.25912 398.606369 
L 462.128474 412.988703 
L 462.852936 421.570945 
L 464.446753 436.904768 
L 465.171216 442.09685 
L 465.750785 444.842674 
L 466.185463 445.868066 
L 466.475248 445.980262 
L 466.765033 445.552401 
L 467.054817 444.614049 
L 467.489495 442.38917 
L 468.213957 437.03408 
L 470.387344 417.501091 
L 471.256698 408.136895 
L 474.29944 372.073049 
L 474.87901 368.031036 
L 475.313687 366.239562 
L 475.603472 365.734663 
L 475.748364 365.710335 
L 475.893257 365.862524 
L 476.183042 366.68416 
L 476.617719 369.083441 
L 477.197289 374.10688 
L 477.921751 382.560359 
L 481.109385 423.055135 
L 483.137879 443.371485 
L 483.572556 445.478503 
L 483.862341 445.992782 
L 484.007234 445.955833 
L 484.297019 445.415374 
L 484.586803 444.312693 
L 485.021481 441.749901 
L 485.601051 436.985417 
L 486.615298 426.434851 
L 487.484652 416.229049 
L 488.064222 405.230835 
L 489.658039 371.417566 
L 490.092716 366.525627 
L 490.382501 365.403852 
L 490.527394 365.548361 
L 490.817179 366.9297 
L 491.251856 371.394834 
L 491.831426 380.883993 
L 492.70078 399.81084 
L 494.149705 432.041713 
L 494.729275 441.034117 
L 495.163952 444.996288 
L 495.453737 445.980223 
L 495.598629 445.848527 
L 495.888414 443.7692 
L 496.323092 436.779617 
L 496.902661 422.310409 
L 498.641371 373.63315 
L 499.076048 367.270101 
L 499.365833 365.718381 
L 499.510725 365.857535 
L 499.80051 367.651491 
L 500.235188 373.4708 
L 500.814757 385.261161 
L 502.408574 420.128673 
L 504.002391 444.273735 
L 504.292176 445.86376 
L 504.437069 445.99099 
L 504.581961 445.788288 
L 504.871746 444.649419 
L 505.306423 441.414891 
L 506.030885 433.320455 
L 507.914487 408.539727 
L 510.232766 371.411365 
L 510.667444 367.8764 
L 510.957229 366.744823 
L 511.102121 366.600022 
L 511.247014 366.702672 
L 511.536798 367.476575 
L 511.971476 369.911441 
L 512.551046 375.12312 
L 513.4204 385.873525 
L 515.738679 416.749571 
L 516.608034 424.175826 
L 518.491636 439.496408 
L 519.216098 443.642871 
L 519.650775 445.228147 
L 519.94056 445.822211 
L 520.230345 445.997445 
L 520.52013 445.724197 
L 520.809915 445.030116 
L 521.244592 443.292474 
L 521.824162 439.897544 
L 522.693517 433.182439 
L 524.722011 415.020408 
L 525.591366 404.611266 
L 528.489215 367.69572 
L 529.358569 360.727835 
L 530.662601 351.857205 
L 531.966633 344.338947 
L 533.415558 337.282535 
L 534.574697 332.632401 
L 535.733837 329.063436 
L 537.327654 324.271812 
L 538.197009 320.917968 
L 539.066363 316.534225 
L 540.08061 310.037564 
L 541.384642 299.94672 
L 543.123352 284.469959 
L 544.427384 271.372701 
L 545.876308 253.730629 
L 548.049695 227.577642 
L 551.382221 190.972055 
L 553.7005 172.854616 
L 555.294317 161.66201 
L 556.453457 154.99286 
L 557.322811 151.136931 
L 558.047274 148.839702 
L 558.626843 147.687154 
L 559.061521 147.26243 
L 559.496198 147.222369 
L 559.930875 147.42701 
L 560.510445 148.014706 
L 561.090015 148.93576 
L 561.814477 150.511881 
L 562.683832 152.951842 
L 563.842971 156.976126 
L 565.291896 162.920812 
L 567.89996 174.817311 
L 569.0591 180.488655 
L 570.363132 188.054153 
L 571.377379 191.665967 
L 572.391626 194.423568 
L 574.130335 198.079204 
L 575.57926 200.750722 
L 576.448614 201.95251 
L 577.173077 202.615477 
L 577.752646 202.873445 
L 578.332216 202.87329 
L 579.056678 202.643998 
L 579.926033 202.106168 
L 580.94028 201.204101 
L 582.534097 199.443179 
L 584.707484 197.053703 
L 585.866623 196.11938 
L 586.735978 195.704137 
L 587.46044 195.60213 
L 587.895118 195.740714 
L 588.329795 196.088401 
L 588.909365 196.859474 
L 589.633827 198.283211 
L 590.503182 200.603349 
L 591.517429 204.049511 
L 592.676568 208.802921 
L 594.270385 216.413182 
L 596.153987 226.48414 
L 596.878449 231.815895 
L 597.747804 239.946248 
L 599.196728 256.039939 
L 602.094577 290.987797 
L 610.063662 394.853953 
L 611.512586 410.446327 
L 613.685973 432.021386 
L 614.70022 439.888177 
L 615.424682 443.911754 
L 617.163392 451.306378 
L 617.887854 453.528323 
L 618.467424 454.640999 
L 618.902101 454.987324 
L 619.191886 454.943322 
L 619.481671 454.654823 
L 619.916348 453.815615 
L 620.495918 452.074253 
L 621.365273 448.550356 
L 622.814197 441.697646 
L 623.538659 437.072413 
L 624.552906 429.110112 
L 628.32011 396.214344 
L 632.377099 357.313635 
L 633.101561 353.12658 
L 633.681131 351.015274 
L 634.115808 350.274534 
L 634.405593 350.22792 
L 634.695378 350.588268 
L 634.985163 351.356425 
L 635.41984 353.250852 
L 635.99941 357.108292 
L 636.723872 363.95459 
L 637.593227 374.927714 
L 638.607474 391.181528 
L 639.476828 408.006584 
L 639.911506 425.256505 
L 641.487114 498 
L 641.487114 498 
" clip-path="url(#p74f81f4b41)" style="fill: none; stroke: #1f77b4; stroke-width: 1.388889; stroke-linecap: square"/>
   </g>
   <g id="line2d_28">
    <path d="M 352.3 390 
L 354.328494 397.261327 
L 355.777419 401.00257 
L 359.254837 409.612415 
L 361.138439 413.743429 
L 362.732256 416.72956 
L 364.036288 418.723763 
L 365.195428 420.091939 
L 366.209675 420.933684 
L 367.07903 421.363112 
L 367.803492 421.49807 
L 368.383062 421.431841 
L 369.107524 421.084337 
L 369.831986 420.462167 
L 370.701341 419.384135 
L 371.715588 417.71775 
L 372.874727 415.348679 
L 374.323652 411.823053 
L 376.207254 406.575645 
L 378.815318 398.65228 
L 379.829565 394.669719 
L 380.988704 389.139687 
L 382.727414 379.560335 
L 385.625263 362.227316 
L 387.798649 347.251439 
L 390.261821 328.662303 
L 397.361551 274.232945 
L 403.591926 228.225788 
L 406.489775 208.759835 
L 408.373377 196.998014 
L 409.677409 190.163623 
L 411.416118 182.699806 
L 412.575258 178.677621 
L 413.444612 176.422468 
L 416.342461 169.86315 
L 417.936278 166.82341 
L 419.095418 165.049713 
L 420.109665 163.884307 
L 420.97902 163.22337 
L 421.703482 162.941622 
L 422.427944 162.914218 
L 423.442191 163.121389 
L 424.601331 163.602314 
L 426.195148 164.537065 
L 427.644072 165.601187 
L 428.658319 166.741346 
L 429.817459 168.437228 
L 431.121491 170.754538 
L 432.8602 174.336696 
L 436.047834 181.571164 
L 437.786543 185.889174 
L 439.525253 190.812982 
L 441.263962 196.428713 
L 443.002671 202.822489 
L 444.451596 208.974279 
L 445.90052 216.222269 
L 447.494337 225.374806 
L 449.233047 236.641367 
L 450.826863 248.308162 
L 452.275788 261.0399 
L 454.304282 281.243106 
L 457.347024 313.806139 
L 461.548904 361.488322 
L 463.287614 377.580732 
L 466.909925 407.755419 
L 467.634387 411.624227 
L 468.938419 416.533693 
L 469.662881 418.660625 
L 470.242451 419.717842 
L 470.532236 419.960624 
L 470.822021 419.989096 
L 471.256698 419.780169 
L 471.691376 419.325478 
L 472.270945 418.38203 
L 472.995408 416.747798 
L 474.009655 413.827205 
L 475.893257 407.492142 
L 477.342181 402.924637 
L 478.211536 400.760201 
L 478.935998 399.472616 
L 479.515568 398.86736 
L 479.950245 398.701822 
L 480.384922 398.800297 
L 480.8196 399.136273 
L 481.39917 399.89976 
L 482.123632 401.257431 
L 483.282771 404.022049 
L 485.456158 409.314353 
L 486.18062 410.571874 
L 486.76019 411.229488 
L 487.194867 411.471038 
L 487.629545 411.451739 
L 488.064222 411.117799 
L 488.643792 410.262218 
L 489.368254 408.720874 
L 491.831426 402.936452 
L 492.410995 402.211938 
L 492.845673 402.002762 
L 493.135458 402.080881 
L 493.425243 402.382755 
L 493.85992 403.179618 
L 494.584382 405.125073 
L 496.033307 409.305237 
L 496.612876 410.286972 
L 496.902661 410.485855 
L 497.192446 410.448098 
L 497.482231 410.189567 
L 497.916908 409.461552 
L 498.641371 407.620132 
L 500.38008 402.845339 
L 500.814757 402.201422 
L 501.104542 402.012973 
L 501.394327 402.040445 
L 501.829005 402.399523 
L 502.408574 403.355755 
L 503.133037 405.087086 
L 505.306423 410.770608 
L 505.885993 411.62893 
L 506.32067 411.893158 
L 506.755348 411.809999 
L 507.190025 411.472892 
L 507.769595 410.687493 
L 508.494057 409.273331 
L 509.508304 406.753794 
L 511.971476 400.368089 
L 512.695938 399.052826 
L 513.275508 398.3711 
L 513.710185 398.12607 
L 514.144862 398.140071 
L 514.57954 398.399427 
L 515.15911 399.085944 
L 515.883572 400.416494 
L 516.752926 402.568213 
L 517.912066 406.082888 
L 521.244592 416.62623 
L 522.113947 418.587597 
L 522.838409 419.712361 
L 523.417979 420.203382 
L 523.852656 420.296561 
L 524.142441 420.15643 
L 524.577119 419.575172 
L 525.011796 418.572919 
L 525.591366 416.62891 
L 526.315828 413.313327 
L 527.185183 408.202705 
L 528.344322 399.826491 
L 529.793247 387.574144 
L 533.270665 355.413287 
L 534.284912 343.592231 
L 536.603192 315.768217 
L 539.356148 286.278575 
L 541.384642 267.102679 
L 543.558029 248.269422 
L 545.296738 235.022971 
L 547.325233 221.554676 
L 548.91905 212.317244 
L 550.657759 203.628098 
L 552.106683 197.165582 
L 553.12093 193.564738 
L 554.135178 190.87038 
L 557.467704 182.657685 
L 559.930875 177.131992 
L 561.95937 173.069072 
L 563.842971 169.783071 
L 565.436788 167.428649 
L 566.885713 165.669841 
L 568.189745 164.428292 
L 569.348884 163.618148 
L 570.363132 163.150901 
L 571.377379 162.922062 
L 572.246733 162.934805 
L 573.116088 163.183149 
L 574.130335 163.718508 
L 575.434367 164.674395 
L 576.883292 165.994241 
L 577.752646 167.206347 
L 578.766893 169.05093 
L 580.070925 171.974148 
L 581.085173 174.706154 
L 581.954527 177.891579 
L 583.403452 184.316004 
L 584.707484 190.931613 
L 586.301301 200.263533 
L 588.764472 216.197645 
L 593.835708 250.501174 
L 597.023342 273.993093 
L 599.631406 295.07526 
L 603.398609 325.246495 
L 606.296458 347.60975 
L 607.745383 357.174342 
L 609.049415 364.329677 
L 610.788124 372.553741 
L 613.396188 384.84973 
L 614.410435 390.726285 
L 616.583822 404.612425 
L 617.163392 406.693353 
L 619.046993 412.024479 
L 620.495918 415.530412 
L 621.655058 417.843041 
L 622.669305 419.437405 
L 623.538659 420.441281 
L 624.263122 420.995547 
L 624.987584 421.271737 
L 625.712046 421.263377 
L 626.436508 421.028137 
L 627.305863 420.478399 
L 628.175218 419.66377 
L 629.189465 418.416545 
L 630.493497 416.412828 
L 632.087314 413.482941 
L 634.2607 408.934856 
L 640.78086 394.468752 
L 641.94 391.5 
L 641.94 391.5 
" clip-path="url(#p74f81f4b41)" style="fill: none; stroke: #ff7f0e; stroke-width: 2.083333; stroke-linecap: square"/>
   </g>
   <g id="patch_8">
    <path d="M 349.5 444.5 
L 349.5 34.5 
" style="fill: none; stroke: #000000; stroke-width: 1.111111; stroke-linejoin: miter; stroke-linecap: square"/>
   </g>
   <g id="patch_9">
    <path d="M 645.5 444.5 
L 645.5 34.5 
" style="fill: none; stroke: #000000; stroke-width: 1.111111; stroke-linejoin: miter; stroke-linecap: square"/>
   </g>
   <g id="patch_10">
    <path d="M 349.5 444.5 
L 645.5 444.5 
" style="fill: none; stroke: #000000; stroke-width: 1.111111; stroke-linejoin: miter; stroke-linecap: square"/>
   </g>
   <g id="patch_11">
    <path d="M 349.5 34.5 
L 645.5 34.5 
" style="fill: none; stroke: #000000; stroke-width: 1.111111; stroke-linejoin: miter; stroke-linecap: square"/>
   </g>
   <g id="text_20">
    <!-- insulating DOS $\rho(\omega)$ -->
    <g transform="translate(414.333333 26.166667) scale(0.166667 -0.166667)">
     <defs>
      <path id="DejaVuSans-6e" d="M 3513 2113 
L 3513 0 
L 2938 0 
L 2938 2094 
Q 2938 2591 2744 2837 
Q 2550 3084 2163 3084 
Q 1697 3084 1428 2787 
Q 1159 2491 1159 1978 
L 1159 0 
L 581 0 
L 581 3500 
L 1159 3500 
L 1159 2956 
Q 1366 3272 1645 3428 
Q 1925 3584 2291 3584 
Q 2894 3584 3203 3211 
Q 3513 2838 3513 2113 
z
" transform="scale(0.015625)"/>
      <path id="DejaVuSans-75" d="M 544 1381 
L 544 3500 
L 1119 3500 
L 1119 1403 
Q 1119 906 1312 657 
Q 1506 409 1894 409 
Q 2359 409 2629 706 
Q 2900 1003 2900 1516 
L 2900 3500 
L 3475 3500 
L 3475 0 
L 2900 0 
L 2900 538 
Q 2691 219 2414 64 
Q 2138 -91 1772 -91 
Q 1169 -91 856 284 
Q 544 659 544 1381 
z
M 1991 3584 
L 1991 3584 
z
" transform="scale(0.015625)"/>
      <path id="DejaVuSans-61" d="M 2194 1759 
Q 1497 1759 1228 1600 
Q 959 1441 959 1056 
Q 959 750 1161 570 
Q 1363 391 1709 391 
Q 2188 391 2477 730 
Q 2766 1069 2766 1631 
L 2766 1759 
L 2194 1759 
z
M 3341 1997 
L 3341 0 
L 2766 0 
L 2766 531 
Q 2569 213 2275 61 
Q 1981 -91 1556 -91 
Q 1019 -91 701 211 
Q 384 513 384 1019 
Q 384 1609 779 1909 
Q 1175 2209 1959 2209 
L 2766 2209 
L 2766 2266 
Q 2766 2663 2505 2880 
Q 2244 3097 1772 3097 
Q 1472 3097 1187 3025 
Q 903 2953 641 2809 
L 641 3341 
Q 956 3463 1253 3523 
Q 1550 3584 1831 3584 
Q 2591 3584 2966 3190 
Q 3341 2797 3341 1997 
z
" transform="scale(0.015625)"/>
      <path id="DejaVuSans-67" d="M 2906 1791 
Q 2906 2416 2648 2759 
Q 2391 3103 1925 3103 
Q 1463 3103 1205 2759 
Q 947 2416 947 1791 
Q 947 1169 1205 825 
Q 1463 481 1925 481 
Q 2391 481 2648 825 
Q 2906 1169 2906 1791 
z
M 3481 434 
Q 3481 -459 3084 -895 
Q 2688 -1331 1869 -1331 
Q 1566 -1331 1297 -1286 
Q 1028 -1241 775 -1147 
L 775 -588 
Q 1028 -725 1275 -790 
Q 1522 -856 1778 -856 
Q 2344 -856 2625 -561 
Q 2906 -266 2906 331 
L 2906 616 
Q 2728 306 2450 153 
Q 2172 0 1784 0 
Q 1141 0 747 490 
Q 353 981 353 1791 
Q 353 2603 747 3093 
Q 1141 3584 1784 3584 
Q 2172 3584 2450 3431 
Q 2728 3278 2906 2969 
L 2906 3500 
L 3481 3500 
L 3481 434 
z
" transform="scale(0.015625)"/>
     </defs>
     <use href="#DejaVuSans-69" transform="translate(0 0.015625)"/>
     <use href="#DejaVuSans-6e" transform="translate(27.783203 0.015625)"/>
     <use href="#DejaVuSans-73" transform="translate(91.162109 0.015625)"/>
     <use href="#DejaVuSans-75" transform="translate(143.261719 0.015625)"/>
     <use href="#DejaVuSans-6c" transform="translate(206.640625 0.015625)"/>
     <use href="#DejaVuSans-61" transform="translate(234.423828 0.015625)"/>
     <use href="#DejaVuSans-74" transform="translate(295.703125 0.015625)"/>
     <use href="#DejaVuSans-69" transform="translate(334.912109 0.015625)"/>
     <use href="#DejaVuSans-6e" transform="translate(362.695312 0.015625)"/>
     <use href="#DejaVuSans-67" transform="translate(426.074219 0.015625)"/>
     <use href="#DejaVuSans-20" transform="translate(489.550781 0.015625)"/>
     <use href="#DejaVuSans-44" transform="translate(521.337891 0.015625)"/>
     <use href="#DejaVuSans-4f" transform="translate(598.339844 0.015625)"/>
     <use href="#DejaVuSans-53" transform="translate(677.050781 0.015625)"/>
     <use href="#DejaVuSans-20" transform="translate(740.527344 0.015625)"/>
     <use href="#DejaVuSans-Oblique-3c1" transform="translate(772.314453 0.015625)"/>
     <use href="#DejaVuSans-28" transform="translate(835.791016 0.015625)"/>
     <use href="#DejaVuSans-Oblique-3c9" transform="translate(874.804688 0.015625)"/>
     <use href="#DejaVuSans-29" transform="translate(958.544922 0.015625)"/>
    </g>
   </g>
   <g id="legend_1">
    <g id="patch_12">
     <path d="M 474.896701 109.643965 
L 635.777778 109.643965 
Q 638.555556 109.643965 638.555556 103.992188 
L 638.555556 44.222222 
Q 638.555556 41.444444 635.777778 41.444444 
L 474.896701 41.444444 
Q 472.118924 41.444444 472.118924 44.222222 
L 472.118924 103.992188 
Q 472.118924 109.643965 474.896701 109.643965 
z
" style="fill: #ffffff; opacity: 0.8; stroke: #cccccc; stroke-width: 1.388889; stroke-linejoin: miter"/>
    </g>
    <g transform="translate(0 0.447)"><g id="line2d_29">
     <path d="M 477.674479 52.692274 
L 491.563368 52.692274 
L 505.452257 52.692274 
" style="fill: none; stroke-dasharray: 2.083333,3.4375; stroke-dashoffset: 0; stroke: #000000; stroke-width: 2.083333"/>
    </g></g>
    <g transform="translate(0 0.447)"><g id="text_21">
     <!-- true -->
     <g transform="translate(516.563368 57.553385) scale(0.138889 -0.138889)">
      <defs>
       <path id="DejaVuSans-72" d="M 2631 2963 
Q 2534 3019 2420 3045 
Q 2306 3072 2169 3072 
Q 1681 3072 1420 2755 
Q 1159 2438 1159 1844 
L 1159 0 
L 581 0 
L 581 3500 
L 1159 3500 
L 1159 2956 
Q 1341 3275 1631 3429 
Q 1922 3584 2338 3584 
Q 2397 3584 2469 3576 
Q 2541 3569 2628 3553 
L 2631 2963 
z
" transform="scale(0.015625)"/>
      </defs>
      <use href="#DejaVuSans-74"/>
      <use href="#DejaVuSans-72" transform="translate(39.208984 0)"/>
      <use href="#DejaVuSans-75" transform="translate(80.322266 0)"/>
      <use href="#DejaVuSans-65" transform="translate(143.701172 0)"/>
     </g>
    </g></g>
    <g transform="translate(0 2.204)"><g id="line2d_30">
     <path d="M 477.674479 73.078559 
L 491.563368 73.078559 
L 505.452257 73.078559 
" style="fill: none; stroke: #1f77b4; stroke-width: 1.388889; stroke-linecap: square"/>
    </g></g>
    <g transform="translate(0 2.204)"><g id="text_22">
     <!-- t-SVD with $L' = L$ -->
     <g transform="translate(516.563368 77.93967) scale(0.138889 -0.138889)">
      <defs>
       <path id="DejaVuSans-56" d="M 1831 0 
L 50 4666 
L 709 4666 
L 2188 738 
L 3669 4666 
L 4325 4666 
L 2547 0 
L 1831 0 
z
" transform="scale(0.015625)"/>
       <path id="DejaVuSans-77" d="M 269 3500 
L 844 3500 
L 1563 769 
L 2278 3500 
L 2956 3500 
L 3675 769 
L 4391 3500 
L 4966 3500 
L 4050 0 
L 3372 0 
L 2619 2869 
L 1863 0 
L 1184 0 
L 269 3500 
z
" transform="scale(0.015625)"/>
       <path id="DejaVuSans-68" d="M 3513 2113 
L 3513 0 
L 2938 0 
L 2938 2094 
Q 2938 2591 2744 2837 
Q 2550 3084 2163 3084 
Q 1697 3084 1428 2787 
Q 1159 2491 1159 1978 
L 1159 0 
L 581 0 
L 581 4863 
L 1159 4863 
L 1159 2956 
Q 1366 3272 1645 3428 
Q 1925 3584 2291 3584 
Q 2894 3584 3203 3211 
Q 3513 2838 3513 2113 
z
" transform="scale(0.015625)"/>
       <path id="DejaVuSans-Oblique-4c" d="M 1075 4666 
L 1709 4666 
L 909 525 
L 3181 525 
L 3078 0 
L 172 0 
L 1075 4666 
z
" transform="scale(0.015625)"/>
       <path id="Cmsy10-30" d="M 225 347 
Q 184 359 184 409 
L 966 3316 
Q 1003 3434 1093 3506 
Q 1184 3578 1300 3578 
Q 1450 3578 1564 3479 
Q 1678 3381 1678 3231 
Q 1678 3166 1644 3084 
L 488 319 
Q 466 275 428 275 
Q 394 275 320 306 
Q 247 338 225 347 
z
" transform="scale(0.015625)"/>
       <path id="DejaVuSans-3d" d="M 678 2906 
L 4684 2906 
L 4684 2381 
L 678 2381 
L 678 2906 
z
M 678 1631 
L 4684 1631 
L 4684 1100 
L 678 1100 
L 678 1631 
z
" transform="scale(0.015625)"/>
      </defs>
      <use href="#DejaVuSans-74" transform="translate(0 0.584375)"/>
      <use href="#DejaVuSans-2d" transform="translate(39.208984 0.584375)"/>
      <use href="#DejaVuSans-53" transform="translate(75.292969 0.584375)"/>
      <use href="#DejaVuSans-56" transform="translate(138.769531 0.584375)"/>
      <use href="#DejaVuSans-44" transform="translate(207.177734 0.584375)"/>
      <use href="#DejaVuSans-20" transform="translate(284.179688 0.584375)"/>
      <use href="#DejaVuSans-77" transform="translate(315.966797 0.584375)"/>
      <use href="#DejaVuSans-69" transform="translate(397.753906 0.584375)"/>
      <use href="#DejaVuSans-74" transform="translate(425.537109 0.584375)"/>
      <use href="#DejaVuSans-68" transform="translate(464.746094 0.584375)"/>
      <use href="#DejaVuSans-20" transform="translate(528.125 0.584375)"/>
      <use href="#DejaVuSans-Oblique-4c" transform="translate(559.912109 0.584375)"/>
      <use href="#Cmsy10-30" transform="translate(622.641771 38.865625) scale(0.7)"/>
      <use href="#DejaVuSans-3d" transform="translate(664.101732 0.584375)"/>
      <use href="#DejaVuSans-Oblique-4c" transform="translate(767.373216 0.584375)"/>
     </g>
    </g></g>
    <g transform="translate(0 2.763)"><g id="line2d_31">
     <path d="M 477.674479 93.464844 
L 491.563368 93.464844 
L 505.452257 93.464844 
" style="fill: none; stroke: #ff7f0e; stroke-width: 2.083333; stroke-linecap: square"/>
    </g></g>
    <g transform="translate(0 2.763)"><g id="text_23">
     <!-- Ridge regression -->
     <g transform="translate(516.563368 98.325955) scale(0.138889 -0.138889)">
      <defs>
       <path id="DejaVuSans-52" d="M 2841 2188 
Q 3044 2119 3236 1894 
Q 3428 1669 3622 1275 
L 4263 0 
L 3584 0 
L 2988 1197 
Q 2756 1666 2539 1819 
Q 2322 1972 1947 1972 
L 1259 1972 
L 1259 0 
L 628 0 
L 628 4666 
L 2053 4666 
Q 2853 4666 3247 4331 
Q 3641 3997 3641 3322 
Q 3641 2881 3436 2590 
Q 3231 2300 2841 2188 
z
M 1259 4147 
L 1259 2491 
L 2053 2491 
Q 2509 2491 2742 2702 
Q 2975 2913 2975 3322 
Q 2975 3731 2742 3939 
Q 2509 4147 2053 4147 
L 1259 4147 
z
" transform="scale(0.015625)"/>
       <path id="DejaVuSans-64" d="M 2906 2969 
L 2906 4863 
L 3481 4863 
L 3481 0 
L 2906 0 
L 2906 525 
Q 2725 213 2448 61 
Q 2172 -91 1784 -91 
Q 1150 -91 751 415 
Q 353 922 353 1747 
Q 353 2572 751 3078 
Q 1150 3584 1784 3584 
Q 2172 3584 2448 3432 
Q 2725 3281 2906 2969 
z
M 947 1747 
Q 947 1113 1208 752 
Q 1469 391 1925 391 
Q 2381 391 2643 752 
Q 2906 1113 2906 1747 
Q 2906 2381 2643 2742 
Q 2381 3103 1925 3103 
Q 1469 3103 1208 2742 
Q 947 2381 947 1747 
z
" transform="scale(0.015625)"/>
       <path id="DejaVuSans-6f" d="M 1959 3097 
Q 1497 3097 1228 2736 
Q 959 2375 959 1747 
Q 959 1119 1226 758 
Q 1494 397 1959 397 
Q 2419 397 2687 759 
Q 2956 1122 2956 1747 
Q 2956 2369 2687 2733 
Q 2419 3097 1959 3097 
z
M 1959 3584 
Q 2709 3584 3137 3096 
Q 3566 2609 3566 1747 
Q 3566 888 3137 398 
Q 2709 -91 1959 -91 
Q 1206 -91 779 398 
Q 353 888 353 1747 
Q 353 2609 779 3096 
Q 1206 3584 1959 3584 
z
" transform="scale(0.015625)"/>
      </defs>
      <use href="#DejaVuSans-52"/>
      <use href="#DejaVuSans-69" transform="translate(69.482422 0)"/>
      <use href="#DejaVuSans-64" transform="translate(97.265625 0)"/>
      <use href="#DejaVuSans-67" transform="translate(160.742188 0)"/>
      <use href="#DejaVuSans-65" transform="translate(224.21875 0)"/>
      <use href="#DejaVuSans-20" transform="translate(285.742188 0)"/>
      <use href="#DejaVuSans-72" transform="translate(317.529297 0)"/>
      <use href="#DejaVuSans-65" transform="translate(356.392578 0)"/>
      <use href="#DejaVuSans-67" transform="translate(417.916016 0)"/>
      <use href="#DejaVuSans-72" transform="translate(481.392578 0)"/>
      <use href="#DejaVuSans-65" transform="translate(520.255859 0)"/>
      <use href="#DejaVuSans-73" transform="translate(581.779297 0)"/>
      <use href="#DejaVuSans-73" transform="translate(633.878906 0)"/>
      <use href="#DejaVuSans-69" transform="translate(685.978516 0)"/>
      <use href="#DejaVuSans-6f" transform="translate(713.761719 0)"/>
      <use href="#DejaVuSans-6e" transform="translate(774.943359 0)"/>
     </g>
    </g></g>
   </g>
  </g>
 </g>
 <defs>
  <clipPath id="p5061287ca9">
   <rect x="42.5" y="34.5" width="296" height="410"/>
  </clipPath>
  <clipPath id="p74f81f4b41">
   <rect x="349.5" y="34.5" width="296" height="410"/>
  </clipPath>
 </defs>
</svg>

</body></html>
